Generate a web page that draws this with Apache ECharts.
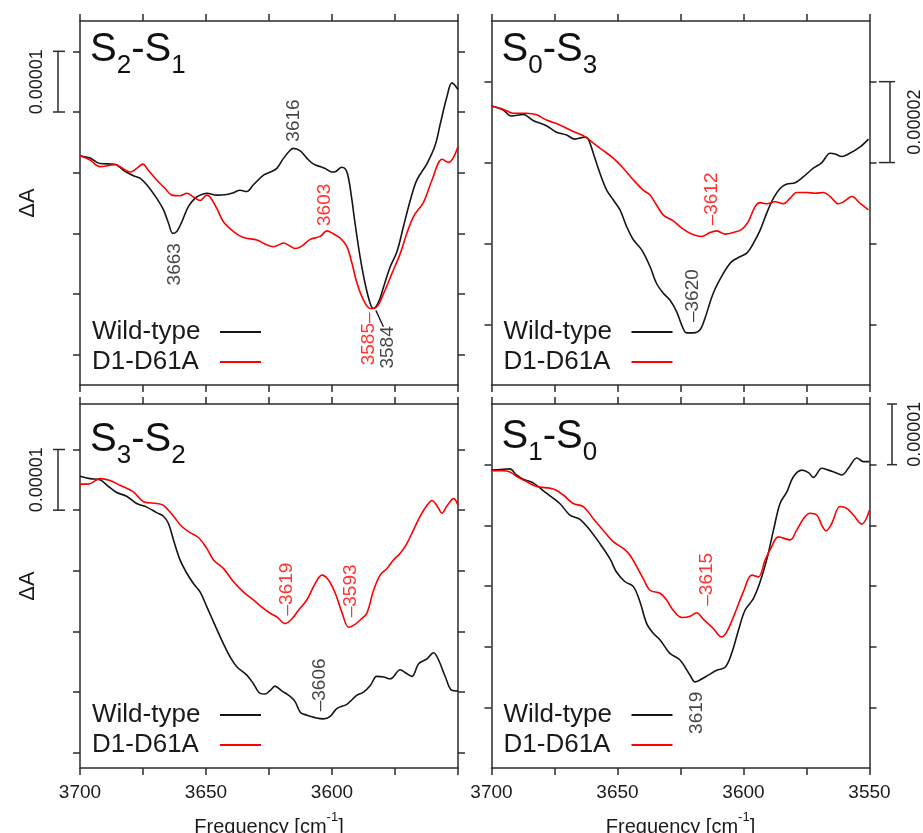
<!DOCTYPE html>
<html><head><meta charset="utf-8">
<script src="https://cdn.jsdelivr.net/npm/echarts@6/dist/echarts.min.js"></script>
<style>html,body{margin:0;padding:0;background:#fff}#c{width:923px;height:833px}</style>
</head><body><div id="c"></div>
<script>
// ---- DATA: [frequency (cm-1), ΔA in units of 1e-5 (arbitrary offset)] ----
const wt_S2S1 = [[3700,3.78],[3696,3.74],[3692.1,3.65],[3686.1,3.64],[3682.8,3.54],[3678.8,3.45],[3676.2,3.41],[3673.5,3.30],[3669.6,3.08],[3666.9,2.89],[3664.9,2.67],[3663.2,2.50],[3661.6,2.53],[3659.6,2.69],[3657,2.94],[3654.3,3.08],[3652.3,3.13],[3649.7,3.16],[3645.7,3.13],[3641.8,3.14],[3639.1,3.17],[3636.5,3.21],[3633.8,3.19],[3631.2,3.30],[3627.2,3.46],[3624.5,3.51],[3621.9,3.57],[3619.2,3.74],[3616.6,3.87],[3615.3,3.90],[3612.6,3.86],[3610,3.74],[3607.3,3.64],[3604.7,3.60],[3602.7,3.57],[3600,3.51],[3598.5,3.52],[3596.1,3.59],[3594.5,3.55],[3593.4,3.40],[3592.1,3.05],[3590.8,2.65],[3588.8,2.10],[3586.8,1.66],[3584.8,1.34],[3583.5,1.26],[3581.5,1.37],[3579.5,1.62],[3576.9,1.95],[3574.2,2.20],[3571.6,2.62],[3568.9,3.05],[3566.3,3.38],[3562.3,3.65],[3559,3.96],[3557,4.31],[3554.4,4.75],[3552.4,4.98],[3550,4.87]];
const mut_S2S1 = [[3700,3.78],[3696,3.71],[3692.1,3.60],[3686.1,3.63],[3680.1,3.51],[3677.5,3.57],[3675.1,3.64],[3672.9,3.54],[3669.6,3.38],[3666.2,3.24],[3663.6,3.13],[3660.3,3.12],[3657.6,3.16],[3655,3.10],[3652.3,3.04],[3649.7,3.13],[3648.4,3.10],[3645.7,2.91],[3643.1,2.69],[3639.1,2.53],[3635.1,2.43],[3629.8,2.39],[3625.9,2.31],[3623.2,2.28],[3619.2,2.34],[3616.6,2.29],[3614.6,2.25],[3612,2.29],[3608.7,2.40],[3604.7,2.45],[3602,2.54],[3599.4,2.49],[3596.7,2.42],[3594.1,2.28],[3592.1,2.01],[3590.1,1.68],[3587.5,1.40],[3584.8,1.26],[3582.2,1.29],[3579.5,1.51],[3576.2,1.84],[3572.9,2.17],[3570.3,2.50],[3567.6,2.78],[3563.6,3.02],[3560.3,3.38],[3556.3,3.72],[3553.7,3.67],[3551.7,3.76],[3550,3.93]];
const wt_S0S3 = [[3700,6.90],[3695.4,6.80],[3692.1,6.65],[3687.4,6.69],[3683.5,6.54],[3678.2,6.41],[3674.2,6.25],[3670.2,6.18],[3666.9,6.08],[3662.9,6.13],[3661.6,6.08],[3659.6,5.73],[3657,5.24],[3654.3,4.82],[3651.7,4.58],[3649,4.33],[3646.4,3.92],[3643.7,3.59],[3640.4,3.34],[3637.1,2.93],[3634.5,2.51],[3631.8,2.27],[3629.2,2.10],[3626.5,1.81],[3624.5,1.48],[3622.6,1.29],[3619.9,1.29],[3617.3,1.36],[3615.3,1.65],[3612,2.27],[3608,2.76],[3604.7,3.05],[3601.4,3.17],[3598.7,3.26],[3596.1,3.50],[3593.4,3.83],[3590.8,4.25],[3588.1,4.62],[3585.5,4.86],[3582.8,4.97],[3579.5,5.00],[3576.2,5.15],[3572.3,5.36],[3568.9,5.50],[3565.6,5.73],[3563.6,5.71],[3561,5.65],[3558.4,5.71],[3553.7,5.89],[3550.4,6.08]];
const mut_S0S3 = [[3700,6.90],[3695.4,6.82],[3691.4,6.72],[3686.1,6.72],[3682.1,6.68],[3678.2,6.55],[3672.9,6.43],[3667.6,6.27],[3662.9,6.14],[3659.6,5.98],[3655.7,5.80],[3651.7,5.61],[3647.7,5.36],[3643.7,5.07],[3639.8,4.82],[3637.1,4.70],[3634.5,4.45],[3631.8,4.20],[3627.9,4.06],[3624.5,3.88],[3621.2,3.75],[3616.6,3.67],[3613.3,3.77],[3610.6,3.81],[3607.3,3.73],[3604,3.77],[3600.7,3.85],[3598.1,4.04],[3595.4,4.41],[3593.4,4.51],[3590.8,4.48],[3587.5,4.53],[3584.2,4.48],[3581.5,4.62],[3578.9,4.76],[3574.9,4.76],[3571.6,4.74],[3568.3,4.76],[3565.6,4.66],[3562.3,4.48],[3560.3,4.53],[3557,4.66],[3553.7,4.49],[3550.4,4.33]];
const wt_S3S2 = [[3700,4.81],[3696,4.77],[3692.1,4.75],[3688.7,4.64],[3685.4,4.54],[3681.5,4.48],[3677.5,4.36],[3673.5,4.30],[3669.6,4.21],[3666.9,4.15],[3664.9,4.03],[3662.9,3.76],[3660.3,3.43],[3657.6,3.21],[3655,3.04],[3652.3,2.90],[3649.7,2.66],[3646.4,2.35],[3643.1,2.05],[3640.4,1.83],[3637.8,1.67],[3633.8,1.53],[3631.2,1.39],[3628.5,1.23],[3626.5,1.22],[3624.5,1.28],[3622.6,1.35],[3619.9,1.27],[3616.6,1.18],[3614.6,1.09],[3612.6,0.92],[3610,0.87],[3606.7,0.83],[3603.4,0.81],[3600.7,0.85],[3598.1,0.98],[3594.1,1.05],[3590.1,1.20],[3587.5,1.25],[3584.8,1.36],[3582.2,1.51],[3579.5,1.50],[3576.9,1.47],[3572.9,1.62],[3570.9,1.57],[3568.3,1.51],[3565.6,1.72],[3562.3,1.80],[3559.7,1.90],[3557.7,1.78],[3555,1.50],[3552.4,1.28],[3550,1.27]];
const mut_S3S2 = [[3700,4.68],[3696.7,4.68],[3692.1,4.77],[3688.1,4.74],[3684.1,4.66],[3678.8,4.55],[3674.8,4.39],[3669.6,4.36],[3666.9,4.33],[3662.9,4.15],[3659.6,3.98],[3656.3,3.88],[3653,3.80],[3649.7,3.62],[3647,3.43],[3643.1,3.29],[3639.1,3.07],[3635.1,2.90],[3631.2,2.77],[3627.2,2.63],[3624.5,2.55],[3621.9,2.49],[3618.6,2.38],[3615.9,2.46],[3613.3,2.60],[3610,2.77],[3606.7,3.04],[3604,3.18],[3601.4,3.10],[3598.7,2.88],[3596.1,2.57],[3593.4,2.32],[3591.4,2.35],[3588.8,2.44],[3586.2,2.55],[3583.5,2.93],[3580.9,3.18],[3578.2,3.29],[3575.6,3.43],[3572.9,3.54],[3570.3,3.70],[3567.6,3.93],[3565,4.15],[3562.3,4.33],[3560.3,4.41],[3558.3,4.32],[3556.3,4.20],[3554.4,4.32],[3551.7,4.44],[3550,4.33]];
const wt_S1S0 = [[3700,4.91],[3696.7,4.92],[3692.7,4.93],[3690.1,4.83],[3687.4,4.76],[3683.5,4.70],[3678.2,4.53],[3672.9,4.36],[3668.9,4.17],[3664.9,4.10],[3660.9,3.92],[3657,3.70],[3653,3.45],[3650.4,3.23],[3647,3.07],[3643.7,2.99],[3641.1,2.74],[3638.4,2.38],[3635.8,2.22],[3633.1,2.11],[3629.2,1.89],[3625.2,1.78],[3621.2,1.53],[3619.2,1.42],[3617.3,1.45],[3614,1.53],[3610.6,1.61],[3607.3,1.66],[3604.7,1.89],[3602,2.27],[3599.4,2.60],[3596.1,2.79],[3593.4,3.07],[3590.8,3.43],[3588.1,3.92],[3585.5,4.36],[3582.8,4.55],[3580.2,4.80],[3576.9,4.91],[3574.2,4.87],[3572.3,4.79],[3568.9,4.94],[3566.3,4.91],[3563.6,4.87],[3561,4.83],[3558.4,4.94],[3555,5.11],[3552.4,5.05],[3550,5.05]];
const mut_S1S0 = [[3700,4.90],[3695.4,4.90],[3692.7,4.88],[3690.1,4.81],[3686.1,4.72],[3682.1,4.64],[3675.5,4.60],[3671.5,4.50],[3667.6,4.36],[3663.6,4.31],[3659.6,4.11],[3655.7,3.92],[3651.7,3.73],[3647.7,3.62],[3645.1,3.51],[3642.4,3.32],[3639.8,3.12],[3637.1,2.93],[3633.1,2.88],[3630.5,2.77],[3627.9,2.60],[3624.5,2.48],[3621.2,2.50],[3618.6,2.56],[3615.9,2.45],[3612,2.30],[3608.7,2.16],[3606.7,2.24],[3604,2.49],[3600.1,2.90],[3596.7,3.18],[3594.1,3.15],[3591.4,3.43],[3588.8,3.65],[3586.2,3.81],[3581.5,3.76],[3578.9,3.92],[3576.2,4.11],[3573.6,4.20],[3570.9,4.17],[3568.9,4.00],[3567.2,3.91],[3565,4.03],[3561.7,4.31],[3559,4.28],[3556.4,4.17],[3553.1,4.02],[3550,4.25]];

// peak annotations: [label, frequency, ΔA(1e-5), series]  (label centre)
const peaks_S2S1 = [['3616',3615.3,4.36,'wt'],['3663',3662.3,1.99,'wt'],['3603',3602.7,2.97,'mut'],['3585\u2013',3585.5,0.76,'mut'],['3584',3578.0,0.62,'wt']];
const peaks_S0S3 = [['\u20133612',3612.6,4.60,'mut'],['\u20133620',3620.0,2.21,'wt']];
const peaks_S3S2 = [['\u20133619',3617.9,2.95,'mut'],['\u20133593',3592.5,2.92,'mut'],['\u20133606',3604.7,1.37,'wt']];
const peaks_S1S0 = [['\u20133615',3614.6,3.11,'mut'],['3619',3618.4,0.91,'wt']];
const leader_3584 = [[3582.6,1.23],[3579.6,0.96]];

// axis ticks / labels
const xTicks = [3700,3675,3650,3625,3600,3575,3550];
const xLabelsLeft = [3700,3650,3600];
const xLabelsRight = [3700,3650,3600,3550];
const yTicks_S2S1 = [0.5,1.5,2.5,3.5,4.5,5.5];
const yTicks_S0S3 = [1.5,3.5,5.5,7.5];
const yTicks_S3S2 = [0.25,1.25,2.25,3.25,4.25,5.25];
const yTicks_S1S0 = [1,2,3,4,5];
const yMax = [6,9,6,6];
const scaleBars = [[4.5,5.5],[5.5,7.5],[4.25,5.25],[5,6]];
const scaleLabels = ['0.00001','0.00002','0.00001','0.00001'];
const titles = [['2','1'],['0','3'],['3','2'],['1','0']];
const seriesNames = ['Wild-type','D1-D61A'];

// ---- LAYOUT / STYLE ----
const FONT = '"Liberation Sans", Arial, Helvetica, sans-serif';
const INK = '#151515', RED = '#ff0000', AX = '#2b2b2b';
const grids = [
  {left:80, top:21, width:378, height:364, outerBoundsMode:'none'},
  {left:491.5, top:21, width:378, height:364, outerBoundsMode:'none'},
  {left:80, top:404, width:378, height:364, outerBoundsMode:'none'},
  {left:491.5, top:404, width:378, height:364, outerBoundsMode:'none'}
];
const wtData = [wt_S2S1, wt_S0S3, wt_S3S2, wt_S1S0];
const mutData = [mut_S2S1, mut_S0S3, mut_S3S2, mut_S1S0];
const peaks = [peaks_S2S1, peaks_S0S3, peaks_S3S2, peaks_S1S0];
const yTicks = [yTicks_S2S1, yTicks_S0S3, yTicks_S3S2, yTicks_S1S0];

const axLine = {show:true, onZero:false, lineStyle:{color:AX, width:1.5}};
const xAxes = [], yAxes = [], series = [], legends = [];
for (let i = 0; i < 4; i++) {
  const bottomRow = i >= 2, leftCol = i % 2 === 0;
  const base = {gridIndex:i, type:'value', min:3550, max:3700, interval:25, inverse:true,
    axisLine:axLine, splitLine:{show:false},
    axisTick:{show:true, length:7, lineStyle:{color:AX, width:1.5}, customValues:xTicks}};
  xAxes.push(Object.assign({}, base, {position:'bottom',
    axisLabel:{show:bottomRow, customValues: leftCol ? xLabelsLeft : xLabelsRight,
      formatter: v => String(v),
      fontSize:19, color:'#1a1a1a', fontFamily:FONT, margin:15},
    name: bottomRow ? '{a|Frequency [cm}{s|-1}{a|]}' : '',
    nameLocation:'middle', nameGap:43, nameMoveOverlap:false,
    nameTextStyle:{rich:{
      a:{fontSize:20, lineHeight:26, verticalAlign:'bottom', fontFamily:FONT, color:'#1a1a1a'},
      s:{fontSize:13, lineHeight:13, verticalAlign:'top', fontFamily:FONT, color:'#1a1a1a'}}}
  }));
  xAxes.push(Object.assign({}, base, {position:'top', axisLabel:{show:false}}));
  const ybase = {gridIndex:i, type:'value', min:0, max:yMax[i], axisLine:axLine, splitLine:{show:false},
    axisLabel:{show:false},
    axisTick:{show:true, length:7, lineStyle:{color:AX, width:1.5}, customValues:yTicks[i]}};
  yAxes.push(Object.assign({}, ybase, {position:'left',
    name: leftCol ? '\u0394A' : '', nameLocation:'middle', nameRotate:90, nameGap:41, nameMoveOverlap:false,
    nameTextStyle:{fontSize:22, fontFamily:FONT, color:'#1a1a1a'}}));
  yAxes.push(Object.assign({}, ybase, {position:'right'}));

  const line = (name, data, color) => ({type:'line', name, data, xAxisIndex:2*i, yAxisIndex:2*i,
    symbol:'none', smooth:0.35, lineStyle:{color, width:1.6}, itemStyle:{color}, silent:true, z:3});
  series.push(line(seriesNames[0], wtData[i], INK));
  series.push(line(seriesNames[1], mutData[i], RED));
  series.push({type:'scatter', name:'peaks'+i, xAxisIndex:2*i, yAxisIndex:2*i, symbolSize:1,
    itemStyle:{color:'rgba(0,0,0,0)'}, silent:true, z:5,
    data: peaks[i].map(p => ({name:p[0], value:[p[1], p[2]],
      label:{color: p[3]==='mut' ? RED : INK}})),
    label:{show:true, position:'inside', rotate:90, formatter:'{b}', fontSize:19, fontFamily:FONT}});
  if (i === 0) {
    series.push({type:'line', name:'leader', data:leader_3584, xAxisIndex:0, yAxisIndex:0,
      symbol:'none', lineStyle:{color:INK, width:1.3}, silent:true});
  }
  const g = grids[i];
  legends.push({data:seriesNames, orient:'vertical', align:'right', left:g.left + 12,
    top: g.top + g.height - 68, padding:0, itemGap:0, itemWidth:41, itemHeight:2,
    icon:'rect', selectedMode:false,
    formatter: n => '{t|' + n + '}',
    textStyle:{fontSize:26, fontFamily:FONT, color:'#1a1a1a', lineHeight:30,
      rich:{t:{width:123, align:'left', fontSize:26, lineHeight:30, fontFamily:FONT, color:'#1a1a1a'}}}});
}

const chart = echarts.init(document.getElementById('c'));
chart.setOption({
  animation:false, backgroundColor:'#fff',
  grid: grids, xAxis: xAxes, yAxis: yAxes, series, legend: legends
});

// scale bars, titles (positioned with the y scale)
const barX = [58, 890, 58, 892];
const capL = [53, 879, 53, 887];
const capR = [65, 895, 65, 897];
const lblX = [37, 915, 37, 915];
const titleTop = [30, 30, 420, 417];
const graphics = [];
for (let i = 0; i < 4; i++) {
  const y1 = chart.convertToPixel({yAxisIndex:2*i}, scaleBars[i][0]);
  const y2 = chart.convertToPixel({yAxisIndex:2*i}, scaleBars[i][1]);
  const st = {stroke:AX, lineWidth:1.5};
  graphics.push({type:'line', shape:{x1:barX[i], y1:y1, x2:barX[i], y2:y2}, style:st});
  graphics.push({type:'line', shape:{x1:capL[i], y1:y1, x2:capR[i], y2:y1}, style:st});
  graphics.push({type:'line', shape:{x1:capL[i], y1:y2, x2:capR[i], y2:y2}, style:st});
  graphics.push({type:'text', x:lblX[i], y:(y1+y2)/2, rotation:Math.PI/2,
    style:{text:scaleLabels[i], fontSize:18, fontFamily:FONT, fill:'#1a1a1a', align:'center', verticalAlign:'middle'}});
  const t = titles[i];
  graphics.push({type:'text', x:grids[i].left + 10, y:titleTop[i],
    style:{text:'{m|S}{s|'+t[0]+'}{m|-S}{s|'+t[1]+'}', align:'left', verticalAlign:'top',
      rich:{m:{fontSize:40, lineHeight:40, verticalAlign:'top', fontFamily:FONT, fill:'#111'},
            s:{fontSize:26, lineHeight:72, verticalAlign:'middle', fontFamily:FONT, fill:'#111'}}}});
}
chart.setOption({graphic: graphics});
</script>
</body></html>
